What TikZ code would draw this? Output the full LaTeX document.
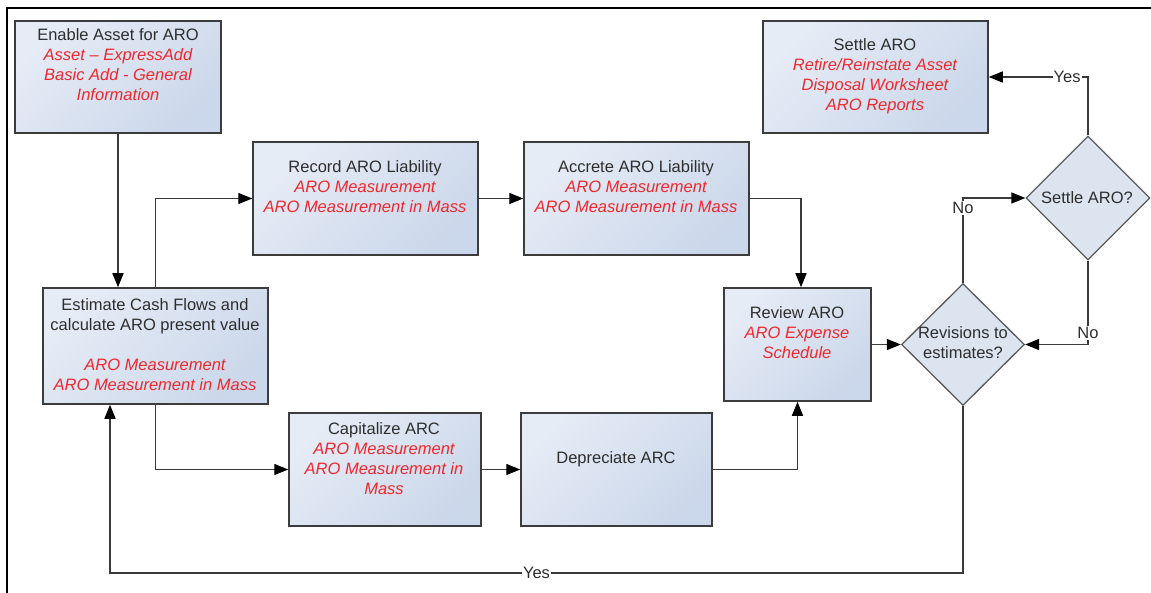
\documentclass[tikz,border=0pt]{standalone}
\usepackage{fontspec}
\setmainfont{Liberation Sans}
\usetikzlibrary{arrows.meta,shapes.geometric}
\definecolor{txtgray}{HTML}{2E2E2E}
\definecolor{redtxt}{HTML}{F0282D}
\definecolor{boxlight}{HTML}{E6ECF6}
\definecolor{boxdark}{HTML}{CBD7EA}
\definecolor{boxedge}{HTML}{3C3C3C}
\definecolor{diafill}{HTML}{DCE4F0}
\definecolor{diaedge}{HTML}{5A5A5A}
\definecolor{connclr}{HTML}{3A3A3A}
\newcommand{\rt}[1]{\textcolor{redtxt}{\itshape #1}}
\begin{document}
\begin{tikzpicture}[x=1pt,y=-1pt,
  box/.style={draw=boxedge, line width=1.5pt, rectangle, inner sep=0pt,
    top color=boxlight, bottom color=boxdark, shading angle=45},
  dia/.style={draw=diaedge, line width=1.3pt, diamond, fill=diafill, inner sep=0pt},
  txt/.style={align=center, inner sep=0pt, text=txtgray,
    font=\fontsize{16.5}{20}\selectfont},
  lbl/.style={fill=white, inner sep=1pt, text=txtgray,
    font=\fontsize{16.5}{20}\selectfont},
  conn/.style={draw=connclr, line width=1.3pt,
    -{Triangle[length=14pt,width=11pt,color=black]}}
]
\useasboundingbox (0,0) rectangle (1151,593);
\draw[line width=1.5pt] (7,593) -- (7,8) -- (1151,8);

% boxes
\node[box, minimum width=206pt, minimum height=112pt] (enable) at (118,77) {};
\node[box, minimum width=225pt, minimum height=112pt] (settle) at (875.5,77) {};
\node[box, minimum width=225pt, minimum height=113pt] (record) at (365.5,198.5) {};
\node[box, minimum width=225pt, minimum height=113pt] (accrete) at (636.5,198.5) {};
\node[box, minimum width=225pt, minimum height=116pt] (estimate) at (155.5,346) {};
\node[box, minimum width=192pt, minimum height=113pt] (capitalize) at (385,469.5) {};
\node[box, minimum width=191pt, minimum height=113pt] (depreciate) at (616.5,469.5) {};
\node[box, minimum width=147pt, minimum height=113pt] (review) at (797.5,344.5) {};
\node[dia, minimum width=124pt, minimum height=124pt] (settleq) at (1088,198) {};
\node[dia, minimum width=123pt, minimum height=122pt] (revq) at (963,344.5) {};

% texts
\node[txt] (enableT) at (118,65) {Enable Asset for ARO\\ \rt{Asset – ExpressAdd}\\ \rt{Basic Add - General}\\ \rt{Information}};
\node[txt] (settleT) at (875,76) {Settle ARO\\ \rt{Retire/Reinstate Asset}\\ \rt{Disposal Worksheet}\\ \rt{ARO Reports}};
\node[txt] (recordT) at (365,187) {Record ARO Liability\\ \rt{ARO Measurement}\\ \rt{ARO Measurement in Mass}};
\node[txt] (accreteT) at (636,187) {Accrete ARO Liability\\ \rt{ARO Measurement}\\ \rt{ARO Measurement in Mass}};
\node[txt] (estimateT) at (155,345) {Estimate Cash Flows and\\ calculate ARO present value\\[20pt] \rt{ARO Measurement}\\ \rt{ARO Measurement in Mass}};
\node[txt] (capitalizeT) at (384,459) {Capitalize ARC\\ \rt{ARO Measurement}\\ \rt{ARO Measurement in}\\ \rt{Mass}};
\node[txt] (depreciateT) at (616,459) {Depreciate ARC};
\node[txt] (reviewT) at (797,333) {Review ARO\\ \rt{ARO Expense}\\ \rt{Schedule}};
\node[txt] (settleqT) at (1087,198) {Settle ARO?};
\node[txt] (revqT) at (963,343) {Revisions to\\ estimates?};

% connectors
\coordinate (loopL) at (110,573);
\draw[conn] (enable.south) -- (enable.south |- estimate.north);
\draw[conn] (estimate.north) |- (record.west);
\draw[conn] (record.east) -- (accrete.west);
\draw[conn] (accrete.east) -| ([xshift=3.5pt]review.north);
\draw[conn] (estimate.south) |- (capitalize.west);
\draw[conn] (capitalize.east) -- (depreciate.west);
\draw[conn] (depreciate.east) -| (review.south);
\draw[conn] (review.east) -- (revq.west);
\draw[conn] (revq.north) |- node[lbl, pos=0.44] (noA) {No} (settleq.west);
\draw[conn] (settleq.south) |- node[lbl, pos=0.43] (noB) {No} (revq.east);
\draw[conn] (settleq.north) |- node[lbl, pos=0.605] (yesA) {Yes} (settle.east);
\draw[conn] (revq.south) |- node[lbl, pos=0.75] (yesB) {Yes} (loopL) -- (loopL |- estimate.south);
\end{tikzpicture}
\end{document}
